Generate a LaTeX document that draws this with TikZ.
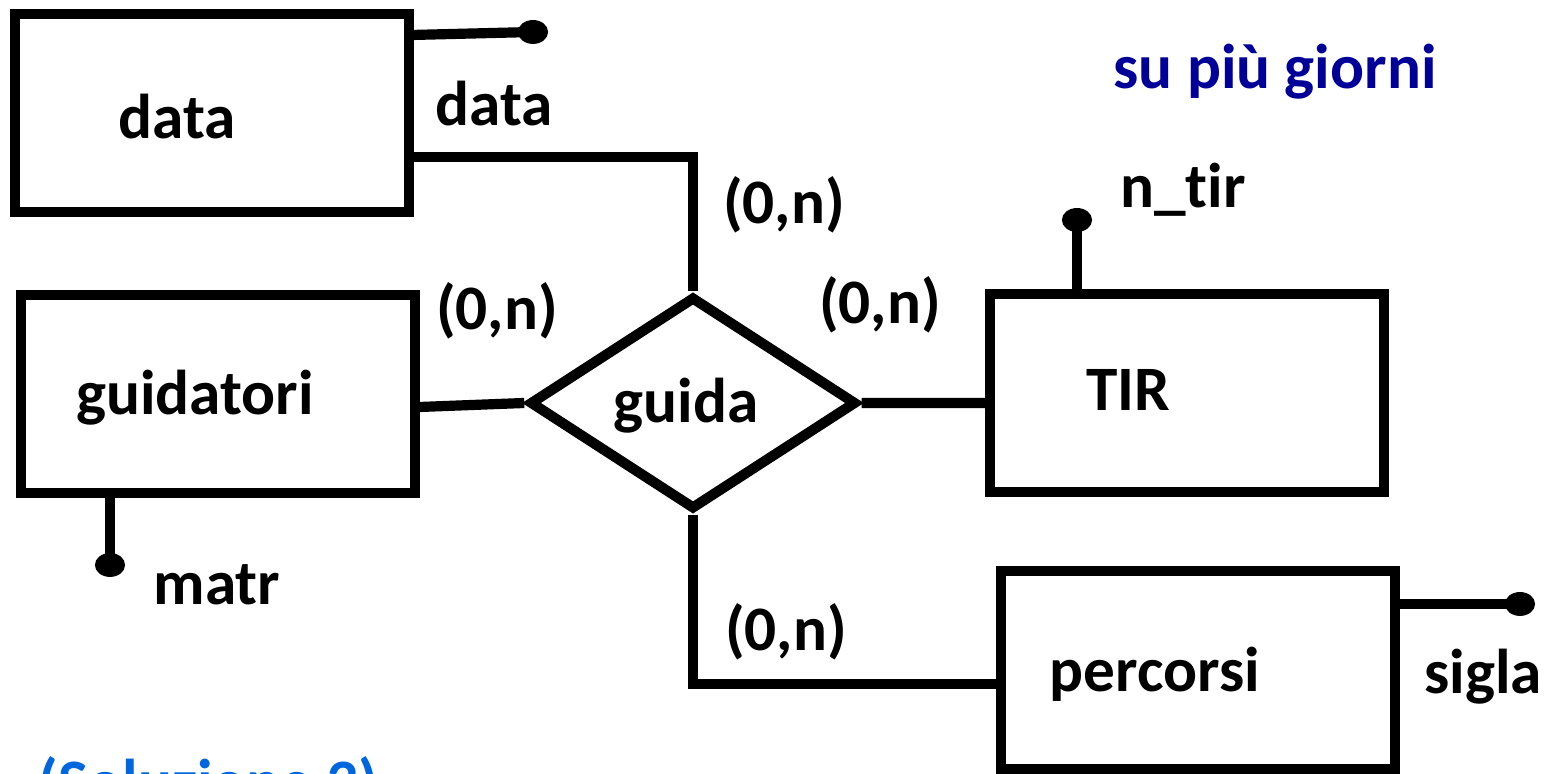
\documentclass[tikz,border=0pt]{standalone}
\usepackage{fontspec}
\setmainfont[Ligatures=NoCommon]{Carlito}
\usepackage{tikz}
\usetikzlibrary{shapes.geometric,calc}

\definecolor{giorniblue}{RGB}{0,0,153}
\definecolor{solblue}{RGB}{0,102,221}

\tikzset{
  er/.style={line width=2.9pt},
  entity/.style={draw, er, minimum width=3.93cm, minimum height=1.98cm, inner sep=0pt},
  relation/.style={draw, er, diamond, minimum width=3.27cm, minimum height=2.13cm, inner sep=0pt, font=\fontsize{18}{22}\selectfont\bfseries},
  txt/.style={font=\fontsize{18}{22}\selectfont\bfseries, inner sep=0pt},
  dot/.style={x radius=4.3pt, y radius=3.4pt}
}

\begin{document}
\begin{tikzpicture}[x=0.01cm,y=-0.01cm]
\useasboundingbox (0,0) rectangle (1544,774);

% entities
\node[entity] (data) at (212,113) {};
\node[txt] (datan) at (177,117) {data};

\node[entity] (guidatori) at (218,394) {};
\node[txt] (guidatorin) at (195,398) {guidatori};

\node[entity] (tir) at (1187,393) {};
\node[txt] (tirn) at (1128,390) {TIR};

\node[entity] (percorsi) at (1198,670) {};
\node[txt] (percorsin) at (1155,674) {percorsi};

% relationship
\node[relation] (guida) at (693,403) {};
\node[txt] (guidan) at (686,406) {guida};

\draw[er] ([yshift=-0.44cm]data.east) -| (guida.north);
\draw[er] ([yshift=-0.13cm]guidatori.east) -- (guida.west);
\draw[er] (guida.east) -- ([yshift=-0.1cm]tir.west);
\draw[er] (guida.south) |- ([yshift=-0.14cm]percorsi.west);

% cardinalities
\node[txt] (c1) at (784,205) {(0,n)};
\node[txt] (c2) at (497,311) {(0,n)};
\node[txt] (c3) at (880,305) {(0,n)};
\node[txt] (c4) at (786,632) {(0,n)};

% attributes
\coordinate (datadot) at (533,32);
\draw[er] ([yshift=0.78cm]data.east) -- (datadot);
\fill (datadot) ellipse [dot];
\node[txt] (dataa) at (494,104) {data};

\coordinate (matrdot) at (110,565);
\draw[er] (guidatori.south -| matrdot) -- (matrdot);
\fill (matrdot) ellipse [dot];
\node[txt] (matr) at (217,585) {matr};

\coordinate (ntirdot) at (1077,220);
\draw[er] (tir.north -| ntirdot) -- (ntirdot);
\fill (ntirdot) ellipse [dot];
\node[txt] (ntir) at (1183,190) {n\_tir};

\coordinate (sigladot) at (1520,604);
\draw[er] (percorsi.east |- sigladot) -- (sigladot);
\fill (sigladot) ellipse [dot];
\node[txt] (sigla) at (1483,677) {sigla};

% notes
\node[txt, text=giorniblue] (giorni) at (1275,72) {su più giorni};
\node[txt, text=solblue, anchor=base west] (sol) at (38,804) {(Soluzione 3)};

\end{tikzpicture}
\end{document}
